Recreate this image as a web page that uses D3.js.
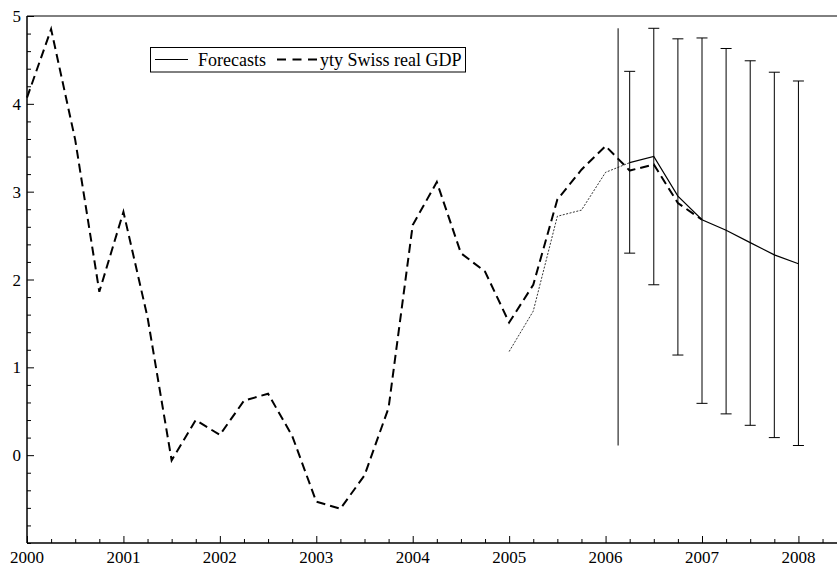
<!DOCTYPE html>
<html lang="en">
<head>
<meta charset="utf-8">
<title>Swiss real GDP forecasts</title>
<script src="https://cdn.jsdelivr.net/npm/d3@7"></script>
<style>
  * { margin: 0; padding: 0; }
  body { background: #fff; overflow: hidden; }
  svg { display: block; }
  svg text { font-family: "Liberation Serif", "Times New Roman", serif; }
</style>
</head>
<body>
<svg id="chart" width="837" height="567"></svg>
<script>
// quarterly series, first quarter = start year
const gdpStart = 2000;
const gdpValues = [4.07, 4.85, 3.59, 1.86, 2.77, 1.57, -0.06, 0.40, 0.23, 0.62,
  0.70, 0.22, -0.53, -0.61, -0.23, 0.54, 2.62, 3.11, 2.30, 2.09,
  1.51, 1.94, 2.91, 3.25, 3.52, 3.24, 3.31, 2.87, 2.68];

const fittedDates = [2005, 2005.25, 2005.5, 2005.75, 2006, 2006.25];
const fittedValues = [1.18, 1.64, 2.72, 2.79, 3.22, 3.33];

const forecastDates = [2006.25, 2006.5, 2006.75, 2007, 2007.25, 2007.5, 2007.75, 2008];
const forecastValues = [3.33, 3.40, 2.95, 2.68, 2.56, 2.42, 2.28, 2.18];
const bandLow = [2.30, 1.94, 1.14, 0.59, 0.47, 0.34, 0.20, 0.11];
const bandHigh = [4.37, 4.86, 4.74, 4.75, 4.63, 4.49, 4.36, 4.26];

const markerDate = 2006.13;
const markerRange = [0.11, 4.86];

const xTicks = [2000, 2001, 2002, 2003, 2004, 2005, 2006, 2007, 2008];
const yTicks = [0, 1, 2, 3, 4, 5];

const FONT = "'Liberation Serif', 'Times New Roman', serif";

const svg = d3.select("#chart");
const x = d3.scaleLinear().domain([2000, 2008.4]).range([27, 837]);
const y = d3.scaleLinear().domain([-1, 5]).range([543, 16]);

// frame: top border, left and bottom axes
svg.append("line").attr("x1", 27).attr("x2", 837).attr("y1", 16).attr("y2", 16)
  .attr("stroke", "#000").attr("stroke-width", 1);

const xAxis = svg.append("g").attr("transform", "translate(0,543)");
xAxis.call(d3.axisBottom(x).tickValues(d3.range(2000, 2008.3, 0.25)).tickSize(-4).tickFormat(""));
xAxis.call(g => g.select(".domain").remove());
xAxis.selectAll(".tick").filter(d => xTicks.includes(d)).select("line").attr("y2", -7);
xAxis.selectAll(".tick line").attr("stroke", "#000");

const yAxis = svg.append("g").attr("transform", "translate(27,0)");
yAxis.call(d3.axisLeft(y).tickValues(d3.range(-1, 5.01, 0.2)).tickSize(-4).tickFormat(""));
yAxis.call(g => g.select(".domain").remove());
yAxis.selectAll(".tick").filter(d => yTicks.some(t => Math.abs(t - d) < 1e-6)).select("line").attr("x2", 7);
yAxis.selectAll(".tick line").attr("stroke", "#000");

svg.append("line").attr("x1", 27).attr("x2", 837).attr("y1", 543).attr("y2", 543)
  .attr("stroke", "#000").attr("stroke-width", 1.5);
svg.append("line").attr("x1", 27).attr("x2", 27).attr("y1", 16).attr("y2", 543)
  .attr("stroke", "#000").attr("stroke-width", 1.5);

svg.append("g").selectAll("text").data(xTicks).join("text")
  .attr("x", d => x(d)).attr("y", 563).attr("text-anchor", "middle")
  .attr("font-family", FONT).attr("font-size", 17).text(d => d);

svg.append("g").selectAll("text").data(yTicks).join("text")
  .attr("x", 21).attr("y", d => y(d) + 6).attr("text-anchor", "end")
  .attr("font-family", FONT).attr("font-size", 17).text(d => d);

// error bars
svg.append("line")
  .attr("x1", x(markerDate)).attr("x2", x(markerDate))
  .attr("y1", y(markerRange[0])).attr("y2", y(markerRange[1]))
  .attr("stroke", "#000").attr("stroke-width", 1);

const bars = svg.append("g").attr("stroke", "#000").attr("stroke-width", 1);
forecastDates.forEach((d, i) => {
  const cx = x(d);
  bars.append("line").attr("x1", cx).attr("x2", cx).attr("y1", y(bandLow[i])).attr("y2", y(bandHigh[i]));
  bars.append("line").attr("x1", cx - 5.5).attr("x2", cx + 5.5).attr("y1", y(bandLow[i])).attr("y2", y(bandLow[i]));
  bars.append("line").attr("x1", cx - 5.5).attr("x2", cx + 5.5).attr("y1", y(bandHigh[i])).attr("y2", y(bandHigh[i]));
});

const line = d3.line().x(d => x(d[0])).y(d => y(d[1]));

svg.append("path")
  .attr("d", line(fittedDates.map((d, i) => [d, fittedValues[i]])))
  .attr("fill", "none").attr("stroke", "#000").attr("stroke-width", 0.8)
  .attr("stroke-dasharray", "2,1.5");

svg.append("path")
  .attr("d", line(forecastDates.map((d, i) => [d, forecastValues[i]])))
  .attr("fill", "none").attr("stroke", "#000").attr("stroke-width", 1.2);

svg.append("path")
  .attr("d", line(gdpValues.map((v, i) => [gdpStart + i * 0.25, v])))
  .attr("fill", "none").attr("stroke", "#000").attr("stroke-width", 2)
  .attr("stroke-dasharray", "9,5");

// legend
const legend = svg.append("g");
legend.append("rect").attr("x", 150.5).attr("y", 47.5).attr("width", 315).attr("height", 24.5)
  .attr("fill", "#fff").attr("stroke", "#000").attr("stroke-width", 1);
legend.append("line").attr("x1", 155).attr("x2", 188).attr("y1", 59.5).attr("y2", 59.5)
  .attr("stroke", "#000").attr("stroke-width", 1.2);
legend.append("text").attr("x", 198).attr("y", 66).attr("font-family", FONT).attr("font-size", 18).text("Forecasts");
legend.append("line").attr("x1", 277).attr("x2", 317).attr("y1", 59.5).attr("y2", 59.5)
  .attr("stroke", "#000").attr("stroke-width", 2).attr("stroke-dasharray", "9,6.5");
legend.append("text").attr("x", 320).attr("y", 66).attr("font-family", FONT).attr("font-size", 18).text("yty Swiss real GDP");
</script>
</body>
</html>
